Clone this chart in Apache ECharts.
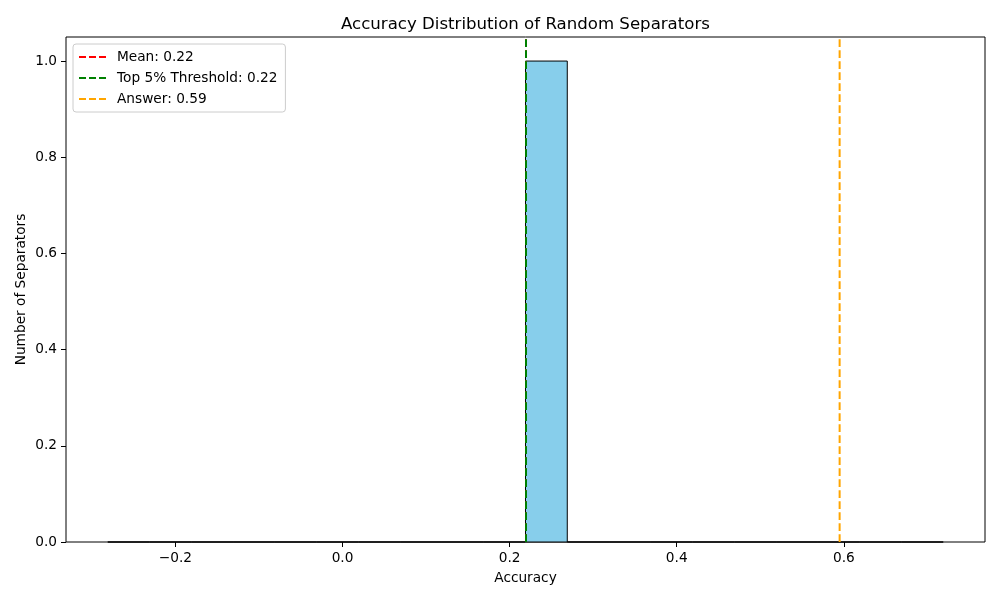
<!DOCTYPE html>
<html>
<head>
<meta charset="utf-8">
<script src="https://cdn.jsdelivr.net/npm/echarts@6/dist/echarts.min.js"></script>
<style>html,body{margin:0;padding:0;background:#fff}#c{width:1000px;height:600px}</style>
</head>
<body>
<div id="c"></div>
<script>
// Histogram bin edges (20 bins) and counts
const binEdges = [-0.281,-0.231,-0.181,-0.131,-0.081,-0.031,0.019,0.069,0.119,0.169,0.219,0.269,0.319,0.369,0.419,0.469,0.519,0.569,0.619,0.669,0.719];
const counts = [0,0,0,0,0,0,0,0,0,0,1,0,0,0,0,0,0,0,0,0];
// Reference lines
const lineNames = ['Mean: 0.22','Top 5% Threshold: 0.22','Answer: 0.59'];
const lineValues = [0.2196, 0.2196, 0.595];
const lineColors = ['#ff0000','#008000','#ffa500'];
// Ticks
const xTicks = [-0.2, 0.0, 0.2, 0.4, 0.6];
const yTicks = [0.0, 0.2, 0.4, 0.6, 0.8, 1.0];
const yMax = 1.05;

const font = 'DejaVu Sans';
const histData = counts.map((c,i)=>[binEdges[i], binEdges[i+1], c]);
const dashIcon = 'path://M0,0h7v2h-7z M10,0h7v2h-7z M20,0h7v2h-7z';

const series = [{
  type:'custom',
  name:'hist',
  data: histData,
  encode:{x:[0,1], y:2},
  renderItem:function(params, api){
    const p0 = api.coord([api.value(0), api.value(2)]);
    const p1 = api.coord([api.value(1), 0]);
    return {type:'rect', shape:{x:p0[0], y:p0[1], width:p1[0]-p0[0], height:p1[1]-p0[1]},
      style:{fill:'#87CEEB', stroke:'#000', lineWidth:1}};
  },
  z:2
}];
lineNames.forEach((n,i)=>{
  series.push({
    type:'line', name:n, data:[[lineValues[i],0],[lineValues[i],yMax]],
    showSymbol:false, symbol:'none', silent:true, clip:true,
    itemStyle:{color:lineColors[i]},
    lineStyle:{color:lineColors[i], type:[7.7,3.3], width:2},
    z:3+i
  });
});

const chart = echarts.init(document.getElementById('c'));
chart.setOption({
  animation:false,
  backgroundColor:'#fff',
  title:{text:'Accuracy Distribution of Random Separators', left:336, top:11,
    textStyle:{fontFamily:font, fontSize:16.6, fontWeight:'normal', color:'#000'}},
  grid:{left:66, right:15, top:37, bottom:58, show:true, borderColor:'#000', borderWidth:1, backgroundColor:'transparent'},
  legend:{
    data: lineNames.map(n=>({name:n, icon:dashIcon})),
    orient:'vertical', left:73, top:44, itemWidth:27, itemHeight:2, itemGap:7,
    backgroundColor:'rgba(255,255,255,0.8)', borderColor:'#cccccc', borderWidth:1, borderRadius:3,
    padding:[6,8,6,6],
    textStyle:{fontFamily:font, fontSize:13.7, color:'#000', padding:[0,0,0,6]}
  },
  xAxis:{type:'value', min:-0.331, max:0.769,
    name:'Accuracy', nameLocation:'middle', nameGap:29, nameMoveOverlap:false,
    nameTextStyle:{fontFamily:font, fontSize:13.7, color:'#000'},
    axisLine:{show:false, onZero:false}, splitLine:{show:false},
    axisTick:{show:true, inside:false, length:5, lineStyle:{color:'#000'}, customValues:xTicks},
    axisLabel:{fontFamily:font, fontSize:13.7, color:'#000', margin:9, customValues:xTicks,
      formatter:v=>(v<0?'\u2212':'')+Math.abs(v).toFixed(1)}
  },
  yAxis:{type:'value', min:0, max:yMax,
    name:'Number of Separators', nameLocation:'middle', nameGap:38, nameMoveOverlap:false,
    nameTextStyle:{fontFamily:font, fontSize:13.7, color:'#000'},
    axisLine:{show:false, onZero:false}, splitLine:{show:false},
    axisTick:{show:true, inside:false, length:5, lineStyle:{color:'#000'}, customValues:yTicks},
    axisLabel:{fontFamily:font, fontSize:13.7, color:'#000', margin:9, customValues:yTicks,
      formatter:v=>v.toFixed(1)}
  },
  series: series
});
</script>
</body>
</html>
